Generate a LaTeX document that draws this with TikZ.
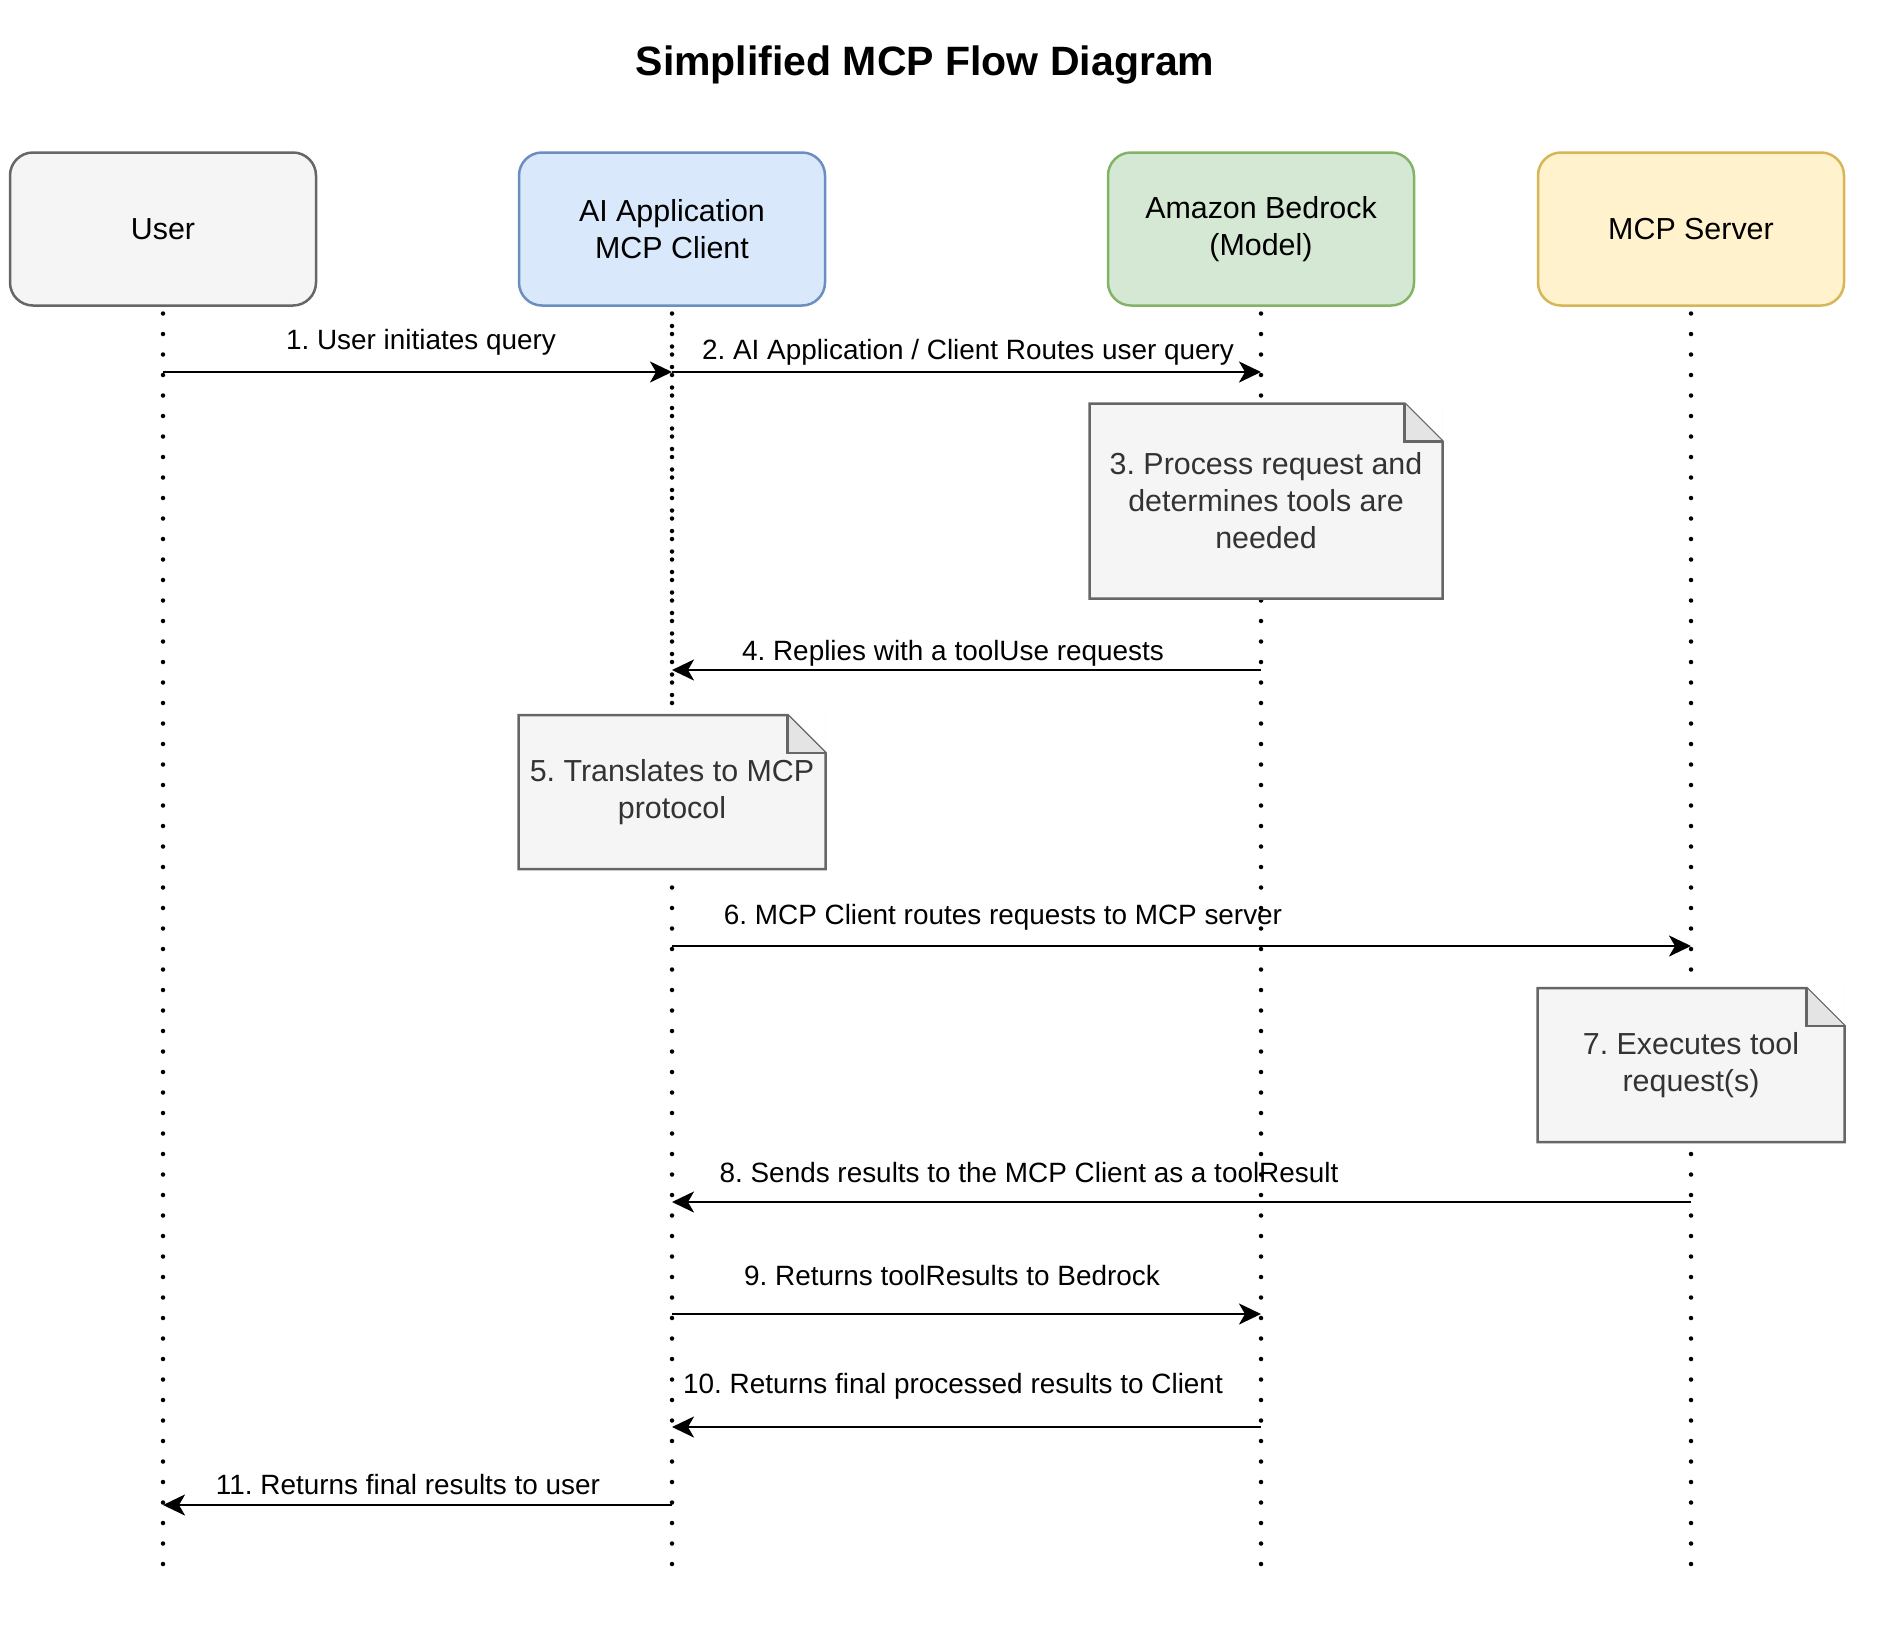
\documentclass[tikz,border=0pt]{standalone}
\usepackage{fontspec}
\setmainfont{Liberation Sans}
\usetikzlibrary{positioning, arrows.meta}
\frenchspacing

\definecolor{userfill}{HTML}{F5F5F5}
\definecolor{userline}{HTML}{666666}
\definecolor{appfill}{HTML}{DAE8FC}
\definecolor{appline}{HTML}{6C8EBF}
\definecolor{bedfill}{HTML}{D5E8D4}
\definecolor{bedline}{HTML}{82B366}
\definecolor{srvfill}{HTML}{FFF2CC}
\definecolor{srvline}{HTML}{D6B656}
\definecolor{notefill}{HTML}{F5F5F5}
\definecolor{foldfill}{HTML}{E4E4E4}
\definecolor{notetext}{HTML}{333333}

\begin{document}
\begin{tikzpicture}[
    x=1pt, y=-1pt,
    actor/.style={rectangle, rounded corners=23pt, line width=2.5pt, minimum width=306pt, minimum height=153pt, align=center, outer sep=0pt, font=\fontsize{30.4}{37}\selectfont},
    note/.style={rectangle, fill=notefill, minimum width=307pt, minimum height=154pt, align=center, outer sep=0pt, text=notetext, font=\fontsize{30.4}{37}\selectfont},
    lbl/.style={inner sep=0pt, font=\fontsize{27.9}{33}\selectfont},
    lifeline/.style={line width=4.5pt, line cap=round, dash pattern=on 0pt off 20.5pt},
    msg/.style={-{Stealth[length=22pt, width=21pt, inset=6pt]}, line width=2.6pt}
]
\useasboundingbox (0,0) rectangle (1888,1642);

% Title
\node[font=\bfseries\fontsize{41}{49}\selectfont] (title) at (925,65) {Simplified MCP Flow Diagram};

% Participants
\node[actor, draw=userline, fill=userfill] (user) at (163,229) {User};
\node[actor, draw=appline, fill=appfill] (app) at (672,229) {AI Application\\MCP Client};
\node[actor, draw=bedline, fill=bedfill] (bedrock) at (1261,229) {Amazon Bedrock\\(Model)};
\node[actor, draw=srvline, fill=srvfill] (server) at (1691,229) {MCP Server};

% Lifelines
\coordinate (lifeEnd) at (0,1578);
\draw[lifeline] ([yshift=-8pt]user.south) -- (user |- lifeEnd);
\draw[lifeline] ([yshift=-8pt]app.south) -- (app |- lifeEnd);
\draw[lifeline] ([yshift=-8pt]bedrock.south) -- (bedrock |- lifeEnd);
\draw[lifeline] ([yshift=-8pt]server.south) -- (server |- lifeEnd);
\coordinate (appDense) at (0,715);
\draw[lifeline, dash phase=8pt] ([yshift=-8pt]app.south) -- (app |- appDense);

% Notes
\node[note, minimum width=353pt, minimum height=195pt] (note3) at (1266,501) {3. Process request and\\determines tools are\\needed};
\node[note] (note5) at (672,792) {5. Translates to MCP\\protocol};
\node[note] (note7) at (1691,1065) {7. Executes tool\\request(s)};
\foreach \n in {note3, note5, note7} {
  \fill[white] ([xshift=-38pt]\n.north east) -- (\n.north east) -- ([yshift=-38pt]\n.north east) -- cycle;
  \draw[userline, line width=2.5pt, line join=miter] (\n.south west) -- (\n.north west) -- ([xshift=-38pt]\n.north east) -- ([yshift=-38pt]\n.north east) -- (\n.south east) -- cycle;
  \filldraw[draw=userline, fill=foldfill, line width=2.5pt] ([xshift=-38pt]\n.north east) -- ([xshift=-38pt, yshift=-38pt]\n.north east) -- ([yshift=-38pt]\n.north east);
}

% Message levels
\coordinate (m1) at (0,372);
\coordinate (m4) at (0,670);
\coordinate (m6) at (0,946);
\coordinate (m8) at (0,1202);
\coordinate (m9) at (0,1314);
\coordinate (m10) at (0,1427);
\coordinate (m11) at (0,1505);

% Messages
\draw[msg] (user |- m1) -- (app |- m1);
\draw[msg] (app |- m1) -- (bedrock |- m1);
\draw[msg] (bedrock |- m4) -- (app |- m4);
\draw[msg] (app |- m6) -- (server |- m6);
\draw[msg] (server |- m8) -- (app |- m8);
\draw[msg] (app |- m9) -- (bedrock |- m9);
\draw[msg] (bedrock |- m10) -- (app |- m10);
\draw[msg] (app |- m11) -- (user |- m11);

% Labels
\node[lbl] (l1) at (421,342) {1. User initiates query};
\node[lbl] (l2) at (968,352) {2. AI Application / Client Routes user query};
\node[lbl] (l4) at (953,653) {4. Replies with a toolUse requests};
\node[lbl] (l6) at (1003,917) {6. MCP Client routes requests to MCP server};
\node[lbl] (l8) at (1029,1173) {8. Sends results to the MCP Client as a toolResult};
\node[lbl] (l9) at (952,1276) {9. Returns toolResults to Bedrock};
\node[lbl] (l10) at (953,1386) {10. Returns final processed results to Client};
\node[lbl] (l11) at (408,1485) {11. Returns final results to user};

\end{tikzpicture}
\end{document}
